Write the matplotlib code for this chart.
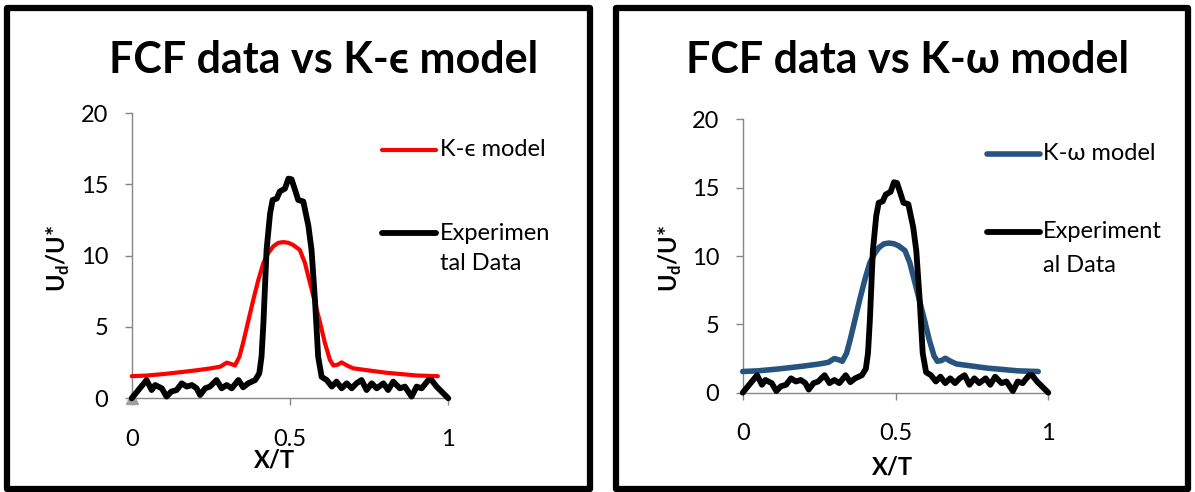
import matplotlib
matplotlib.use('Agg')
import matplotlib.pyplot as plt
from matplotlib.lines import Line2D
from matplotlib.patches import Rectangle

FONT = ['Lato', 'DejaVu Sans']
plt.rcParams['font.family'] = FONT

# model curve (same shape for K-eps and K-omega)
model_x = [0, 0.05, 0.10, 0.15, 0.20, 0.25, 0.28, 0.30, 0.315, 0.326, 0.34, 0.352,
           0.368, 0.384, 0.40, 0.416, 0.432, 0.447, 0.463, 0.479, 0.495, 0.51, 0.531,
           0.547, 0.563, 0.579, 0.595, 0.61, 0.626, 0.637, 0.65, 0.663, 0.68, 0.70,
           0.75, 0.80, 0.85, 0.90, 0.967]
model_y = [1.55, 1.6, 1.7, 1.82, 1.95, 2.1, 2.22, 2.5, 2.4, 2.3, 2.9, 3.9,
           5.4, 6.9, 8.3, 9.5, 10.2, 10.65, 10.9, 10.95, 10.9, 10.75, 10.4,
           9.5, 8.1, 6.7, 5.3, 3.9, 2.7, 2.3, 2.35, 2.52, 2.3, 2.1,
           1.95, 1.8, 1.7, 1.6, 1.55]

# experimental data
exp_x = [0, 0.047, 0.063, 0.074, 0.095, 0.11, 0.125, 0.142, 0.158, 0.174, 0.19, 0.205,
         0.216, 0.232, 0.247, 0.268, 0.284, 0.30, 0.316, 0.337, 0.352, 0.368, 0.39,
         0.403, 0.41, 0.416, 0.426, 0.437, 0.445, 0.458, 0.468, 0.484, 0.495, 0.505,
         0.516, 0.526, 0.542, 0.558, 0.568, 0.579, 0.589, 0.60, 0.616, 0.632, 0.647,
         0.663, 0.679, 0.695, 0.71, 0.726, 0.742, 0.758, 0.774, 0.795, 0.81, 0.826,
         0.847, 0.863, 0.884, 0.90, 0.916, 0.937, 0.947, 0.963, 1.0]
exp_y = [0, 1.28, 0.58, 0.93, 0.7, 0.12, 0.47, 0.58, 1.05, 0.82, 0.93, 0.7,
         0.23, 0.7, 0.82, 1.28, 0.7, 0.93, 0.7, 1.28, 0.77, 1.05, 1.28,
         1.75, 2.9, 5.26, 10.4, 12.95, 13.9, 14.0, 14.5, 14.7, 15.4, 15.35,
         14.6, 13.9, 13.8, 12.1, 10.4, 6.85, 2.9, 1.5, 1.28, 0.82, 1.17,
         0.7, 1.05, 0.7, 1.05, 1.28, 0.58, 1.05, 0.7, 1.05, 0.58, 1.17,
         0.7, 0.82, 0.12, 0.82, 0.7, 1.28, 1.28, 0.82, 0]

# stray grey marker at the origin (left chart only)
marker_x = [0]
marker_y = [0]

titles = ['FCF data vs K-\u03f5 model', 'FCF data vs K-\u03c9 model']
model_labels = ['K-\u03f5 model', 'K-\u03c9 model']
exp_labels = ['Experimen\ntal Data', 'Experiment\nal Data']
model_colors = ['#ff0000', '#26547f']
x_ticks = [0, 0.5, 1]
x_ticklabels = ['0', '0.5', '1']
y_ticks = [0, 5, 10, 15, 20]

W, H = 1195, 492
fig = plt.figure(figsize=(W / 100, H / 100), dpi=100)

def fx(px):
    return px / W

def fy(py):
    return 1 - py / H

# pixel layout of each panel
panels = [
    dict(frame=(7, 8, 590, 489), ax=(131.7, 113.0, 448.3, 398.3),
         title=(324, 60), ylab=(58, 258), xlab=(275, 460),
         leg_x=(382, 436, 440), leg_y=(150, 233, 264), mlw=3.0),
    dict(frame=(616, 8, 1188, 489), ax=(742.7, 119.4, 1048.3, 392.7),
         title=(908, 60), ylab=(670, 258), xlab=(893, 467),
         leg_x=(987, 1040, 1043), leg_y=(154, 232, 266), mlw=4.0),
]

for i, p in enumerate(panels):
    x0, y0, x1, y1 = p['frame']
    fig.add_artist(Rectangle((fx(x0), fy(y1)), fx(x1 - x0), (y1 - y0) / H,
                             transform=fig.transFigure, fill=False,
                             edgecolor='black', linewidth=4.5, joinstyle='round'))

    ax0, ay0, ax1, ay1 = p['ax']
    ax = fig.add_axes([fx(ax0), fy(ay1), fx(ax1 - ax0), (ay1 - ay0) / H])
    ax.plot(model_x, model_y, color=model_colors[i], lw=p['mlw'],
            solid_joinstyle='round', solid_capstyle='round', clip_on=False, zorder=3)
    ax.plot(exp_x, exp_y, color='black', lw=4.2,
            solid_joinstyle='round', solid_capstyle='round', clip_on=False, zorder=4)
    if i == 0:
        ax.plot(marker_x, marker_y, marker='^', color='#a0a0a0', ms=9,
                ls='none', clip_on=False, zorder=2)

    ax.set_xlim(0, 1)
    ax.set_ylim(0, 20)
    ax.set_xticks(x_ticks)
    ax.set_xticklabels(x_ticklabels)
    ax.set_yticks(y_ticks)
    for s in ['top', 'right']:
        ax.spines[s].set_visible(False)
    for s in ['left', 'bottom']:
        ax.spines[s].set_color('#868686')
        ax.spines[s].set_linewidth(1.0)
    ax.tick_params(axis='both', direction='out', length=5, width=1,
                   color='#868686', labelsize=17, labelcolor='black')
    ax.tick_params(axis='x', pad=17)
    ax.tick_params(axis='y', pad=12)
    ax.patch.set_alpha(0)

    tx, ty = p['title']
    fig.text(fx(tx), fy(ty), titles[i], ha='center', va='center',
             fontsize=31, fontweight='bold', family=FONT)

    lx, ly = p['ylab']
    fig.text(fx(lx), fy(ly), 'U$_\\mathregular{d}$/U*', rotation=90,
             ha='center', va='center', fontsize=17, fontweight='bold', family=FONT)
    xx, xy = p['xlab']
    fig.text(fx(xx), fy(xy), 'X/T', ha='center', va='center',
             fontsize=17, fontweight='bold', family=FONT)

    # legend drawn by hand
    hx0, hx1, tx0 = p['leg_x']
    yk, ye, ye2 = p['leg_y']
    fig.add_artist(Line2D([fx(hx0), fx(hx1)], [fy(yk), fy(yk)],
                          transform=fig.transFigure, color=model_colors[i],
                          lw=p['mlw'], solid_capstyle='round'))
    fig.add_artist(Line2D([fx(hx0), fx(hx1)], [fy(ye), fy(ye)],
                          transform=fig.transFigure, color='black',
                          lw=4.2, solid_capstyle='round'))
    fig.text(fx(tx0), fy(yk), model_labels[i], ha='left', va='center',
             fontsize=17, family=FONT)
    first, second = exp_labels[i].split('\n')
    fig.text(fx(tx0), fy(ye), first, ha='left', va='center', fontsize=17, family=FONT)
    fig.text(fx(tx0), fy(ye2), second, ha='left', va='center', fontsize=17, family=FONT)

fig.savefig('out.png', dpi=100)
